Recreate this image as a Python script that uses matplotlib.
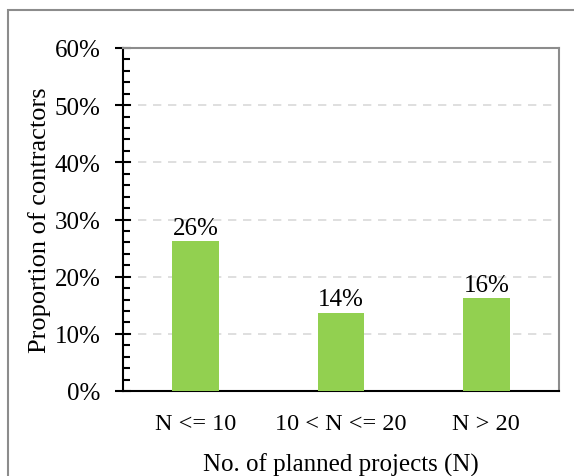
import matplotlib.pyplot as plt
from matplotlib.patches import Rectangle
from matplotlib.ticker import MultipleLocator, PercentFormatter

categories = ['N <= 10', '10 < N <= 20', 'N > 20']
shares = [0.262, 0.137, 0.162]

plt.rcParams['font.family'] = ['Liberation Serif', 'DejaVu Serif']

fig = plt.figure(figsize=(5.74, 4.77), dpi=100)
ax = fig.add_axes([123 / 574, 1 - 392 / 477, 436 / 574, 343 / 477])

# outer frame, partly cut off on the right and bottom
fig.patches.append(Rectangle((8 / 574, -0.05), 1.0, 1 - 11 / 477 + 0.05,
                             transform=fig.transFigure, fill=False,
                             edgecolor='#8c8c8c', linewidth=1.5))

x = range(len(categories))
ax.bar(x, shares, width=0.32, color='#92D050', zorder=3)
for xi, v in zip(x, shares):
    ax.text(xi, v + 0.004, f'{v * 100:.0f}%', ha='center', va='bottom',
            fontsize=18)

ax.set_xlim(-0.5, 2.5)
ax.set_ylim(0, 0.6)
ax.set_xticks(list(x))
ax.set_xticklabels(categories, fontsize=17.5)
ax.yaxis.set_major_locator(MultipleLocator(0.1))
ax.yaxis.set_minor_locator(MultipleLocator(0.02))
ax.yaxis.set_major_formatter(PercentFormatter(1.0, decimals=0))
ax.tick_params(axis='y', which='major', direction='inout', length=12,
               width=1.5, labelsize=18, pad=10)
ax.tick_params(axis='y', which='minor', direction='in', length=5, width=1.5)
ax.tick_params(axis='x', length=0, pad=16)

ax.grid(axis='y', which='major', color='#d9d9d9', linestyle=(0, (5, 4)),
        linewidth=1.2, zorder=0)

for side in ('left', 'bottom'):
    ax.spines[side].set_color('black')
    ax.spines[side].set_linewidth(1.5)
for side in ('top', 'right'):
    ax.spines[side].set_color('#8c8c8c')
    ax.spines[side].set_linewidth(1.5)

ax.set_ylabel('Proportion of contractors', fontsize=19, labelpad=3)
ax.set_xlabel('No. of planned projects (N)', fontsize=18, labelpad=13)

fig.savefig('out.png', dpi=100)
